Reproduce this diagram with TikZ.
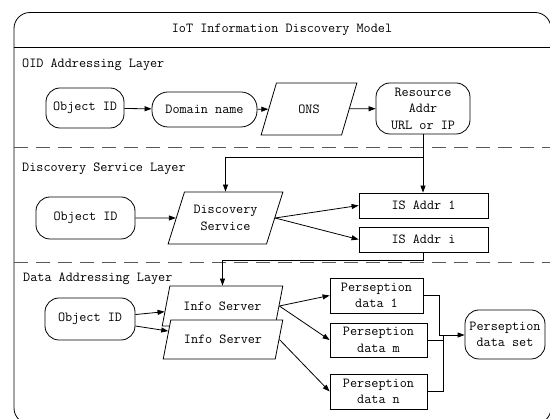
\documentclass[tikz,border=0pt]{standalone}
\usepackage{fontspec}
\usetikzlibrary{shapes.geometric,arrows.meta}
\begin{document}
\begin{tikzpicture}[x=1pt,y=-1pt,
  every node/.style={font=\ttfamily\fontsize{13.8}{16.5}\selectfont},
  box/.style={draw, line width=0.8pt, fill=white, inner sep=2pt, align=center},
  rbox/.style={box, rounded corners=14pt},
  para/.style={box, trapezium, trapezium left angle=65, trapezium right angle=115, trapezium stretches=true},
  lbl/.style={anchor=west, inner sep=0pt},
  arr/.style={line width=0.8pt, -{Triangle[length=7pt,width=5pt]}},
  conn/.style={line width=0.8pt},
  sep/.style={line width=0.8pt, draw=black!65, dash pattern=on 14pt off 8pt}]
\useasboundingbox (0,0) rectangle (550,419);
% frame
\draw[line width=0.8pt, rounded corners=16pt] (14,12.5) rectangle (551,424);
\draw[conn] (14,47) -- (551,47);
\node[inner sep=0pt] (title) at (282,30) {IoT Information Discovery Model};
\draw[sep] (14,147) -- (551,147);
\draw[sep] (14,262) -- (551,262);
% layer labels
\node[lbl] (l1) at (22,65) {OID Addressing Layer};
\node[lbl] (l2) at (22,169) {Discovery Service Layer};
\node[lbl] (l3) at (23,279) {Data Addressing Layer};
% OID layer
\node[rbox, minimum width=78pt, minimum height=40pt] (o1) at (85,108) {Object ID};
\node[rbox, minimum width=105pt, minimum height=35pt, rounded corners=16pt] (dn) at (204.5,109.5) {Domain name};
\node[para, minimum width=96pt, minimum height=52pt] (ons) at (309,109) {ONS};
\node[rbox, minimum width=94pt, minimum height=51pt] (res) at (423,108.5) {Resource\\Addr\\URL or IP};
\draw[arr] (o1) -- (dn);
\draw[arr] (dn) -- (ons);
\draw[arr] (ons) -- (res);
% Discovery layer
\node[rbox, minimum width=99pt, minimum height=42pt] (o2) at (85.5,218) {Object ID};
\node[para, minimum width=115pt, minimum height=52pt] (ds) at (225.5,218) {Discovery\\Service};
\node[box, minimum width=129pt, minimum height=25pt] (isa1) at (423.5,205.5) {IS Addr 1};
\node[box, minimum width=129pt, minimum height=25pt] (isai) at (423.5,239.5) {IS Addr i};
\coordinate (j1) at (423,157.5);
\draw[arr] (res.south) -- (res.south |- isa1.north);
\draw[arr] (j1) -| (ds.north);
\draw[arr] (o2) -- (ds);
\draw[arr] (ds.east) -- (isa1.west);
\draw[arr] (ds.east) -- (isai.west);
% Data layer
\node[rbox, minimum width=90pt, minimum height=42pt] (o3) at (90,319) {Object ID};
\node[para, minimum width=121pt, minimum height=40pt] (is1) at (222.5,306) {Info Server};
\node[para, minimum width=120pt, minimum height=39pt] (is2) at (223,339.5) {Info Server};
\coordinate (j2) at (423.5,260.5);
\draw[conn] (isai.south) -- (j2);
\draw[arr] (j2) -| (is1.north);
\node[box, minimum width=93pt, minimum height=35pt] (p1) at (376.5,295.5) {Perseption\\data 1};
\node[box, minimum width=97pt, minimum height=34pt] (pm) at (378.5,340) {Perseption\\data m};
\node[box, minimum width=97pt, minimum height=35pt] (pn) at (378.5,391.5) {Perseption\\data n};
\node[rbox, minimum width=80pt, minimum height=49pt, inner sep=0pt] (pset) at (505,334.5) {Perseption\\data set};
\draw[arr] (o3) -- (is1);
\draw[arr] (o3) -- (is2);
\draw[arr] (is1.east) -- (p1.west);
\draw[arr] (is1.east) -- (pm.west);
\draw[arr] (is2.east) -- (pn.west);
\coordinate (ja) at (439,335);
\coordinate (jb) at (443,335);
\draw[conn] (p1.east) -| (ja);
\draw[conn] (pn.east) -| (jb);
\draw[conn] (pm.east) -- (pm.east -| jb);
\draw[arr] (ja) -- (pset.west |- ja);
\end{tikzpicture}
\end{document}
